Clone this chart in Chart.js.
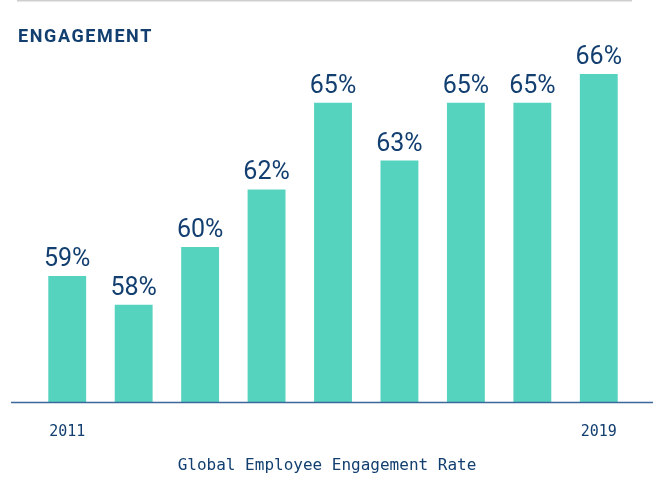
<!DOCTYPE html>
<html>
<head>
<meta charset="utf-8">
<script src="https://cdn.jsdelivr.net/npm/chart.js@4"></script>
<style>
  html, body { margin: 0; padding: 0; background: #fff; }
  #wrap { width: 654px; height: 478px; position: relative; }
</style>
</head>
<body>
<div id="wrap"><canvas id="myChart" width="654" height="478"></canvas></div>
<script>
const years = ["2011", "2012", "2013", "2014", "2015", "2016", "2017", "2018", "2019"];
const engagement = [59, 58, 60, 62, 65, 63, 65, 65, 66];
const shownYears = ["2011", "2019"];
const axisTitle = "Global Employee Engagement Rate";

const navy = "#123f70";
const teal = "#55d3be";

// title, top rule, baseline, axis title and value labels
const decor = {
  id: "decor",
  afterDraw(chart) {
    const ctx = chart.ctx;
    const area = chart.chartArea;
    ctx.save();
    ctx.fillStyle = "#cfcfcf";
    ctx.fillRect(17, 0, 615, 1.5);

    ctx.strokeStyle = "#3b679a";
    ctx.lineWidth = 1.5;
    ctx.beginPath();
    ctx.moveTo(11, area.bottom - 0.5);
    ctx.lineTo(653, area.bottom - 0.5);
    ctx.stroke();

    ctx.fillStyle = navy;
    ctx.font = "bold 18px Roboto";
    ctx.letterSpacing = "1.6px";
    ctx.textBaseline = "middle";
    ctx.textAlign = "left";
    ctx.fillText("ENGAGEMENT", 18, 37);
    ctx.letterSpacing = "0px";

    // axis title is centred on the whole canvas, not the plot
    ctx.font = "16px 'DejaVu Sans Mono'";
    ctx.textAlign = "center";
    ctx.fillText(axisTitle, chart.width / 2, 466);

    ctx.font = "25px Roboto";
    ctx.textBaseline = "alphabetic";
    chart.getDatasetMeta(0).data.forEach((bar, i) => {
      ctx.fillText(engagement[i] + "%", bar.x, bar.y - 10);
    });
    ctx.restore();
  },
};

new Chart("myChart", {
  type: "bar",
  data: {
    labels: years,
    datasets: [
      {
        data: engagement,
        backgroundColor: teal,
        borderWidth: 0,
        barPercentage: 0.57,
        categoryPercentage: 1,
      },
    ],
  },
  options: {
    responsive: false,
    animation: false,
    layout: { padding: { left: 34, right: 22, top: 0, bottom: 17 } },
    plugins: {
      legend: { display: false },
      tooltip: { enabled: false },
    },
    scales: {
      x: {
        grid: { display: false, drawTicks: false },
        border: { display: false },
        ticks: {
          padding: 20,
          autoSkip: false,
          maxRotation: 0,
          color: navy,
          font: { family: "DejaVu Sans Mono", size: 15 },
          callback: function (value) {
            const lab = this.getLabelForValue(value);
            return shownYears.includes(lab) ? lab : "";
          },
        },
      },
      y: {
        display: false,
        min: 54.6,
        max: 68.56,
      },
    },
  },
  plugins: [decor],
});
</script>
</body>
</html>
